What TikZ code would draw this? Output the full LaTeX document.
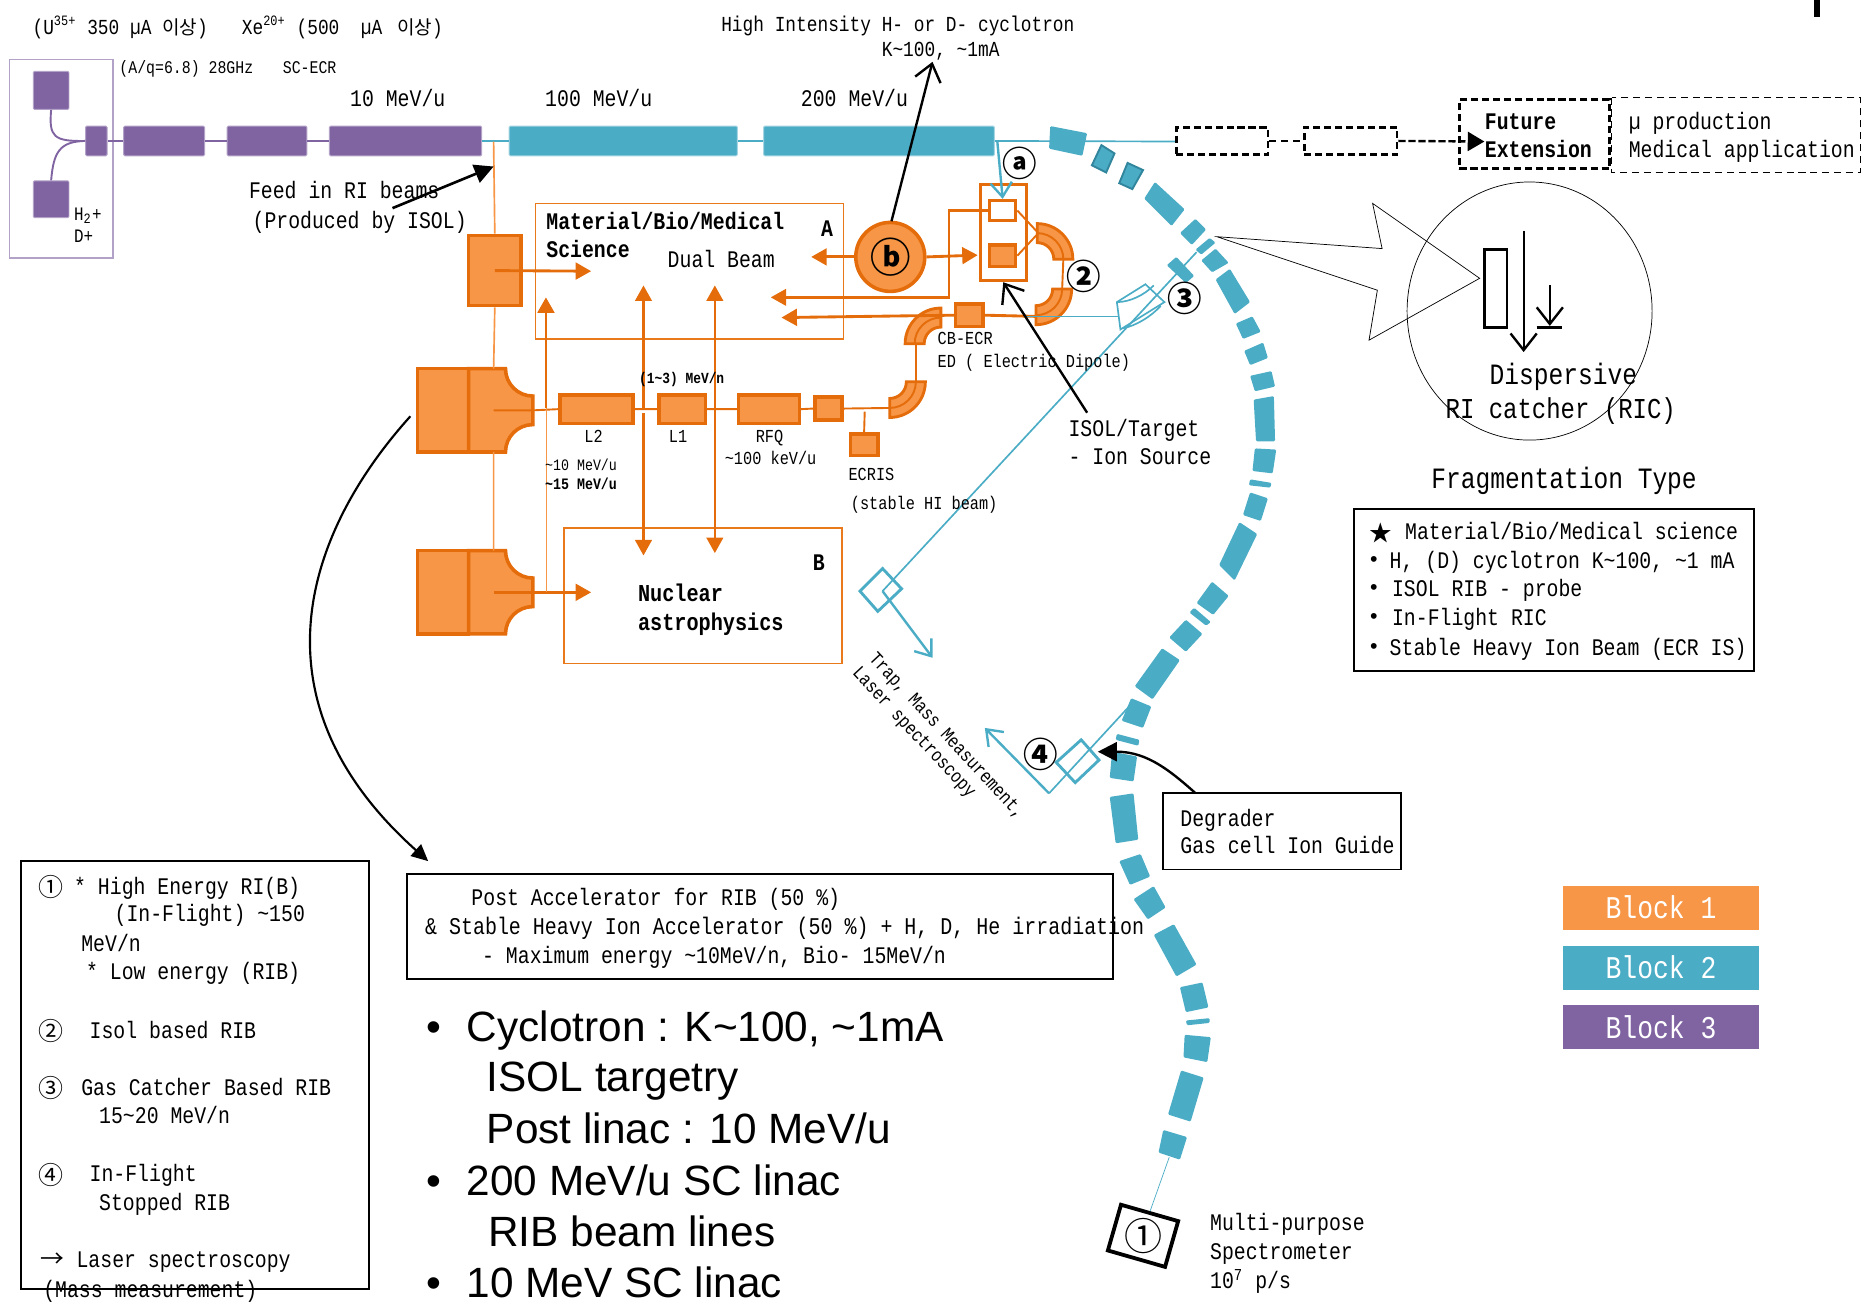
\documentclass[tikz,border=0pt]{standalone}
\usepackage{fontspec}
\setmainfont[FakeStretch=0.833]{Liberation Mono}
\newfontfamily\krfont{Noto Sans CJK KR}
\newfontfamily\bigsans{Liberation Sans}
\usetikzlibrary{positioning,arrows.meta,calc}
\definecolor{orfill}{HTML}{F79646}
\definecolor{ordark}{HTML}{E46C0A}
\definecolor{blfill}{HTML}{4BACC6}
\definecolor{bldark}{HTML}{31859C}
\definecolor{pufill}{HTML}{8064A2}
\definecolor{puline}{HTML}{B3A2C7}
\newcommand{\fsz}[1]{\fontsize{#1}{#1}\selectfont}
\newcommand{\kr}[1]{{\krfont #1}}
\tikzset{
  lbl/.style={inner sep=0pt,anchor=west,text height=0.77em,text depth=0.2em,font=\fsz{10pt}},
  lblsm/.style={lbl,font=\fsz{7.7pt}},
  lblbf/.style={lbl,font=\fsz{10pt}\bfseries},
  lblbig/.style={lbl,font=\fsz{12.4pt},text height=0.95em},
  badge/.style={inner sep=0pt,font=\krfont\bfseries\fsz{14.5pt}},
  bigtxt/.style={inner sep=0pt,anchor=west,text height=1.5em,text depth=0.2em,font=\bigsans\fsz{17.8pt}},
  pubox/.style={draw=puline,line width=0.4pt,fill=pufill,rounded corners=0.5pt,inner sep=0pt},
  blbox/.style={draw=blfill!50,line width=0.4pt,fill=blfill,rounded corners=0.5pt,inner sep=0pt},
  orbox/.style={draw=ordark,line width=1.5pt,fill=orfill,inner sep=0pt},
  orframe/.style={draw=ordark!70!orfill,line width=0.6pt},
  orline/.style={draw=ordark,line width=0.8pt},
  orthin/.style={draw=orfill,line width=0.7pt},
  orarrow/.style={draw=ordark,line width=1.2pt,-{Triangle[length=6.5pt,width=7pt]}},
  blline/.style={draw=blfill,line width=0.7pt},
  blarrow/.style={draw=blfill,line width=1pt,-{Straight Barb[length=6pt,width=9pt,line width=1pt]}},
  karrow/.style={draw=black,line width=1pt,-{Straight Barb[length=7pt,width=11pt,line width=1pt]}},
  kfill/.style={draw=black,line width=1pt,-{Triangle[length=8pt,width=8pt]}},
  dashbox/.style={draw=black,line width=1.2pt,dash pattern=on 3pt off 1.6pt,inner sep=0pt},
  keybox/.style={inner sep=0pt,minimum width=82.5pt,minimum height=18.5pt,text=white,font=\fsz{13.3pt}},
}
\newcommand{\pipebend}[2]{%
  \draw[draw=ordark,line width=1.2pt,fill=orfill] (#1) ++(#2:30) arc[start angle=#2,end angle=#2+90,radius=30]
    -- ([shift={(#2+90:14)}]#1) arc[start angle=#2+90,end angle=#2,radius=14] -- cycle;
  \draw[orline] (#1) ++(#2:22) arc[start angle=#2,end angle=#2+90,radius=22];
}
\newcommand{\cycl}[2]{%
  \draw[orbox] (351,#2) rectangle (394,#2+70);
  \draw[orbox] (394,#2) -- (425,#2) arc[start angle=180,end angle=90,radius=23] -- (448,#2+47)
    arc[start angle=270,end angle=180,radius=23] -- (394,#2+70) -- cycle;
  \coordinate (#1c) at (415,#2+35);
  \coordinate (#1n) at (415,#2);
  \coordinate (#1s) at (415,#2+70);
  \coordinate (#1e) at (448,#2+35);
}
\begin{document}
\begin{tikzpicture}[x=0.5pt,y=-0.5pt]
  \useasboundingbox (0,0) rectangle (1568,1095.5);
  \fill[black] (1525,0) rectangle (1530,14);

  % linac
  \draw[puline,line width=0.6pt] (8,50) rectangle (95,217);
  \node[pubox,minimum width=15pt,minimum height=16pt] (srca) at (43,76) {};
  \node[pubox,minimum width=15pt,minimum height=15.5pt] (srcb) at (43,167.5) {};
  \node[pubox,minimum width=9pt,minimum height=12.5pt] (lebt) at (81,118.5) {};
  \node[pubox,minimum width=34pt,minimum height=12.5pt] (pua) at (138,118.5) {};
  \node[pubox,minimum width=33.5pt,minimum height=12.5pt] (pub) at (224.5,118.5) {};
  \node[pubox,minimum width=64pt,minimum height=12.5pt] (puc) at (341,118.5) {};
  \node[blbox,minimum width=96pt,minimum height=12.5pt] (bla) at (524,118.5) {};
  \node[blbox,minimum width=97pt,minimum height=12.5pt] (blb) at (739,118.5) {};
  \draw[pufill,line width=0.8pt] (srca.south) .. controls (41,115) and (45,119) .. (lebt.west);
  \draw[pufill,line width=0.8pt] (srcb.north) .. controls (45,128) and (50,119) .. (lebt.west);
  \draw[pufill,line width=0.6pt] (lebt) -- (pua) (pua) -- (pub) (pub) -- (puc);
  \draw[blline] (puc.east) -- (bla.west) (bla.east) -- (blb.west);
  \coordinate (feed) at (415,119);
  \coordinate (tapa) at (838.5,119);

  % orange part
  \node[orbox,minimum width=22pt,minimum height=29.5pt] (isol) at (416,227.5) {};
  \cycl{cyca}{310}
  \cycl{cycb}{463}
  \draw[orframe] (450,171) rectangle (709,285);
  \draw[orframe] (474,444) rectangle (708,558);
  \node[orbox,minimum width=30.5pt,minimum height=12pt] (ltwo) at (501.5,344) {};
  \node[orbox,minimum width=19.5pt,minimum height=12pt] (lone) at (573.5,344) {};
  \node[orbox,minimum width=25.5pt,minimum height=12pt] (rfq) at (646.5,344) {};
  \node[orbox,minimum width=11.5pt,minimum height=9.5pt] (buncha) at (696.5,343.5) {};
  \node[orbox,minimum width=11.5pt,minimum height=9pt] (ecris) at (726.5,374) {};
  \node[orbox,minimum width=11.5pt,minimum height=9.5pt] (cbecr) at (815,265) {};
  \node[draw=ordark,line width=1.3pt,minimum width=19.5pt,minimum height=40.5pt,inner sep=0pt] (tgtbox) at (843.5,195.5) {};
  \node[draw=ordark,line width=1.3pt,fill=white,minimum width=11pt,minimum height=8.5pt,inner sep=0pt] (tgta) at (843,177) {};
  \node[orbox,line width=1.3pt,minimum width=11pt,minimum height=9pt,inner sep=0pt] (tgtb) at (843,215) {};
  \node[orbox,circle,minimum size=29pt] (cyb) at (748.5,216) {\fontsize{17pt}{17pt}\krfont\bfseries ⓑ};
  \pipebend{748,321}{0}
  \pipebend{791,289}{180}
  \pipebend{871,243}{0}
  \pipebend{872,218}{270}
  \coordinate (bdn) at (770,321);
  \coordinate (bup) at (770,289);
  \coordinate (brm) at (873,196);
  \coordinate (brb) at (893,243);
  \coordinate (brt) at (894,218);
  \coordinate (tipw) at (657,267);
  \coordinate (tipx) at (648,250);
  \coordinate (cornx) at (798,177);
  \coordinate (corny) at (798,250);
  \coordinate (tgtw) at (822,214.5);
  \draw[orthin] (feed) -- (isol.north) (isol.south) -- (cycan) (cycas) -- (cycbn);
  \draw[orarrow] (isol.center) -- (497,228);
  \draw[orarrow] (cycbc) -- (497,498);
  \draw[orline] (cycac) -- (cycae) -- (ltwo.west) (ltwo.east) -- (lone.west) (lone.east) -- (rfq.west) (rfq.east) -- (buncha.west) (buncha.east) -- (748,343);
  \draw[orline] (727,346) -- (ecris.north);
  \draw[orline] (bdn) -- (bup);
  \draw[orarrow] (cbecr.west) -- (tipw);
  \draw[draw=ordark,line width=1.2pt] (cbecr.east) -- (871,266);
  \draw[orline] (brt) -- (brb);
  \draw[orline] (tgta.east) -- (brm) -- (tgtb.east);
  \draw[draw=ordark,line width=1pt,-{Triangle[length=6.5pt,width=7pt]}] (tgta.west) -- (cornx) -- (corny) -- (tipx);
  \draw[orarrow] (cyb.east) -- (tgtw);
  \draw[orarrow] (cyb.west) -- (682,216);
  \draw[orarrow] (459,343) -- (459,250);
  \draw[orthin,line width=0.3pt] (459,343) -- (459,498);
  \draw[orarrow,line width=0.9pt] (541,343) -- (541,240);
  \draw[orarrow,line width=0.9pt] (541,347) -- (541,467);
  \draw[orarrow,line width=0.9pt] (601,343) -- (601,240);
  \draw[orarrow,line width=0.9pt] (601,343) -- (601,465);

  % blue ring
  \draw[blline] (blb.east) -- (989,119);
  \draw[blarrow] (tapa) -- (tgta.north);
  \foreach \a/\b/\c/\d/\e/\f/\g/\h in {
    883/106/914/112/910/131/882/125, 971/153/996/176/985/190/962/167, 1005/184/1014/193/1002/206/992/196,
    1017/200/1022/204/1010/214/1005/210, 1022/209/1033/221/1019/229/1010/219, 1034/226/1051/254/1038/264/1022/235,
    1053/266/1060/279/1045/285/1039/272, 1062/288/1066/301/1051/307/1046/295, 1069/312/1072/325/1055/329/1051/316,
    1071/333/1072/371/1056/371/1054/336, 1073/378/1070/398/1053/396/1055/377, 1069/406/1068/410/1050/408/1051/403,
    1066/419/1060/438/1045/433/1051/414, 1057/449/1038/488/1025/475/1042/439, 1033/501/1020/517/1006/507/1019/489,
    1018/523/1014/526/1000/515/1004/511, 1011/533/997/548/983/536/997/521, 977/545/992/555/969/588/954/577,
    951/587/968/594/961/612/943/606, 939/617/958/622/957/627/938/622, 935/632/956/636/953/657/933/654,
    933/670/953/667/957/706/938/709, 941/724/959/718/967/737/950/744, 953/756/970/745/980/763/965/773,
    970/786/987/777/1006/811/989/821, 992/830/1011/826/1016/847/997/851, 997/858/1017/856/1017/860/998/862,
    996/870/1018/872/1015/893/995/889, 993/900/1012/906/1001/943/982/937, 978/950/998/956/992/975/974/969,
    989/216/1004/232/997/238/981/223}
    \fill[blfill,rounded corners=0.5pt] (\a,\b) -- (\c,\d) -- (\e,\f) -- (\g,\h) -- cycle;
  \foreach \a/\b/\c/\d/\e/\f/\g/\h in {926/122/937/129/930/145/918/139, 948/137/961/143/952/159/941/154}
    \draw[draw=bldark,line width=0.8pt,fill=blfill] (\a,\b) -- (\c,\d) -- (\e,\f) -- (\g,\h) -- cycle;

  % branches
  \coordinate (brc) at (861,266);
  \coordinate (brd) at (941,266);
  \coordinate (bre) at (1006,212);
  \coordinate (brf) at (742,497);
  \coordinate (brg) at (784,553);
  \coordinate (brh) at (952,591);
  \coordinate (bri) at (882,667);
  \coordinate (brj) at (828,612);
  \coordinate (spec) at (983,973);
  \draw[blline] (brc) -- (brd);
  \draw[blline] (bre) -- (brf);
  \draw[blarrow] (brf) -- (brg);
  \draw[blline] (brh) -- (bri);
  \draw[blarrow] (bri) -- (brj);
  \draw[blline,line width=0.7pt] (939,254) -- (963,239) -- (979,254) -- (942,277) -- cycle;
  \draw[blline] (939,254) .. controls (950,254) and (962,248) .. (970,240);
  \draw[blline] (944,276) .. controls (955,274) and (968,266) .. (976,257);
  \draw[blline,line width=1.2pt] (742,478) -- (758,495) -- (738,514) -- (723,497) -- cycle;
  \draw[blline,line width=1.2pt] (909,622) -- (924,639) -- (904,658) -- (888,641) -- cycle;
  \node[draw=black,line width=1.6pt,minimum width=25pt,minimum height=20pt,rotate=-16,inner sep=0pt,font=\krfont\fsz{16pt}] (specbox) at (961,1039) {\rotatebox{16}{①}};
  \draw[blfill,line width=0.3pt] (spec) -- (specbox.north);

  % future
  \node[dashbox,minimum width=38.5pt,minimum height=11.5pt] (futa) at (1027.5,118.5) {};
  \node[dashbox,minimum width=39pt,minimum height=11.5pt] (futb) at (1135.5,118.5) {};
  \node[dashbox,minimum width=63pt,minimum height=29pt] (futc) at (1290,113) {};
  \draw[draw=black,line width=0.6pt,densely dashed] (1355,82) rectangle (1564,145);
  \coordinate (fute) at (1248,119);
  \draw[draw=black,line width=0.8pt,densely dashed] (futa.east) -- (futb.west);
  \draw[draw=black,line width=1pt,dash pattern=on 3pt off 1.2pt,-{Triangle[length=7pt,width=8pt]}] (futb.east) -- (fute);
  \node[lblbf] (tfuta) at (1248,103) {Future};
  \node[lblbf] (tfutb) at (1248,127) {Extension};
  \node[lbl] (tmua) at (1369,103) {µ production};
  \node[lbl] (tmub) at (1369,127) {Medical application};

  % catcher
  \draw[black,line width=0.3pt] (1023,199) -- (1162,209) -- (1154,171) -- (1244,234) -- (1151,286) -- (1158,244) -- cycle;
  \draw[black,line width=0.3pt] (1286,261.5) ellipse [x radius=103,y radius=108.5];
  \draw[black,line width=1.2pt] (1248,210) rectangle (1267,275);
  \coordinate (cata) at (1281,194);
  \coordinate (catb) at (1281,296);
  \coordinate (catc) at (1303,240);
  \coordinate (catd) at (1303,274);
  \draw[karrow,line width=0.8pt] (cata) -- (catb);
  \draw[karrow,line width=0.8pt] (catc) -- (catd);
  \draw[black,line width=1.2pt] (1292,275) -- (1313,275);
  \node[lblbig] (tcata) at (1252,316) {Dispersive};
  \node[lblbig,font=\fsz{12.1pt}] (tcatb) at (1215,344) {RI catcher (RIC)};
  \node[lblbig] (tcatc) at (1203,403) {Fragmentation Type};
  \draw[black,line width=0.8pt] (1138,428) rectangle (1475,564);
  \node[inner sep=0pt,font=\krfont\fsz{9.5pt}] (star) at (1161,448) {★};
  \node[lbl] (lista) at (1181,448) {Material/Bio/Medical science};
  \foreach \i/\yy/\xx/\tx in {b/472/1168/{H, (D) cyclotron K\textasciitilde100, \textasciitilde1 mA},
    c/496/1170/ISOL RIB - probe, d/520/1170/In-Flight RIC, e/545/1168/Stable Heavy Ion Beam (ECR IS)} {
    \node[inner sep=0pt,font=\bigsans\fsz{9pt}] (bul\i) at (1155,\yy) {•};
    \node[lbl] (list\i) at (\xx,\yy) {\tx};
  }

  % text top
  \node[lbl,font=\fsz{9pt}] (tusrc) at (27,23) {(U\textsuperscript{35+} 350 µA \kr{\fsz{8pt}이상})};
  \node[lbl,font=\fsz{9pt}] (txsrc) at (203,23) {Xe\textsuperscript{20+} (500\ \ µA \kr{\fsz{8pt}\ 이상})};
  \node[lbl,font=\fsz{7.5pt}] (taq) at (100,56) {(A/q=6.8) 28GHz\hspace{12.5pt}SC-ECR};
  \node[lblsm,font=\fsz{8pt}] (thp) at (62,180) {H\textsubscript{2}+};
  \node[lblsm,font=\fsz{8pt}] (tdp) at (62,198) {D+};
  \node[lbl] (tena) at (294,84) {10 MeV/u};
  \node[lbl] (tenb) at (458,84) {100 MeV/u};
  \node[lbl] (tenc) at (673,84) {200 MeV/u};
  \node[lbl,font=\fsz{9pt}] (tcyca) at (606,21) {High Intensity H- or D- cyclotron};
  \node[lbl,font=\fsz{9pt}] (tcycb) at (741,42) {K\textasciitilde100, \textasciitilde1mA};
  \node[lbl] (tfeeda) at (209,161) {Feed in RI beams};
  \node[lbl] (tfeedb) at (212,186) {(Produced by ISOL)};
  \node[lblbf] (tmata) at (459,187) {Material/Bio/Medical};
  \node[lblbf] (tmatb) at (459,211) {Science};
  \node[lblbf] (tbla) at (690,193) {A};
  \node[lbl] (tdual) at (561,219) {Dual Beam};
  \node[lblbf] (tblb) at (683,474) {B};
  \node[lblbf,font=\fsz{10.2pt}\bfseries] (tnuca) at (536,500) {Nuclear};
  \node[lblbf,font=\fsz{10.2pt}\bfseries] (tnucb) at (536,524) {astrophysics};
  \node[lblsm,font=\fsz{6.5pt}\bfseries] (tmevn) at (537,317) {(1\textasciitilde3) MeV/n};
  \node[lblsm] (tltwo) at (491,366) {L2};
  \node[lblsm] (tlone) at (562,366) {L1};
  \node[lblsm] (trfq) at (635,366) {RFQ};
  \node[lblsm] (tkev) at (609,385) {\textasciitilde100 keV/u};
  \node[lblsm,font=\fsz{6.7pt}] (tmeva) at (458,390) {\textasciitilde10 MeV/u};
  \node[lblsm,font=\fsz{6.7pt}\bfseries] (tmevb) at (458,406) {\textasciitilde15 MeV/u};
  \node[lblsm] (tecr) at (713,398) {ECRIS};
  \node[lblsm] (tstab) at (715,423) {(stable HI beam)};
  \node[lblsm] (tcb) at (788,284) {CB-ECR};
  \node[lblsm] (ted) at (788,303) {ED ( Electric Dipole)};
  \node[lbl] (tisa) at (898,361) {ISOL/Target};
  \node[lbl] (tisb) at (898,385) {- Ion Source};
  \node[lblsm,font=\fsz{8pt},rotate=-47] (ttrap) at (734,550) {Trap, Mass Measurement,};
  \node[lblsm,font=\fsz{8pt},rotate=-47] (tlaser) at (720,562) {Laser spectroscopy};
  \node[lbl] (tmula) at (1017,1029) {Multi-purpose};
  \node[lbl] (tmulb) at (1017,1053) {Spectrometer};
  \node[lbl] (tmulc) at (1017,1078) {10\textsuperscript{7} p/s};

  % badges
  \node[badge] (bada) at (857,137) {ⓐ};
  \node[badge] (badb) at (911,232) {②};
  \node[badge] (badc) at (996,251) {③};
  \node[badge] (badd) at (875,634) {④};

  % black arrows
  \coordinate (feeda) at (330,175);
  \coordinate (feedb) at (415,140);
  \draw[kfill,line width=1.1pt] (feeda) -- (feedb);
  \coordinate (cyba) at (749.5,186);
  \coordinate (cybb) at (784,52);
  \draw[karrow] (cyba) -- (cybb);
  \coordinate (isola) at (914,347);
  \draw[karrow] (isola) -- (tgtbox.south);
  \coordinate (postb) at (345,350);
  \coordinate (poste) at (360,724);
  \draw[draw=black,line width=0.9pt,-{Triangle[length=7pt,width=6.5pt]}] (postb) .. controls (255,450) and (210,590) .. (poste);
  \coordinate (dega) at (1015,676);
  \coordinate (degb) at (923,632);
  \draw[kfill] (dega) .. controls (985,648) and (965,632) .. (degb);

  % boxes below
  \draw[black,line width=0.8pt,fill=white] (978,667) rectangle (1178,731);
  \node[lbl] (tdega) at (992,689) {Degrader};
  \node[lbl] (tdegb) at (992,712) {Gas cell Ion Guide};
  \draw[black,line width=0.8pt] (342,735) rectangle (936,823);
  \node[lbl] (tposta) at (396,756) {Post Accelerator for RIB (50 \%)};
  \node[lbl,font=\fsz{10.08pt}] (tpostb) at (357,780) {\& Stable Heavy Ion Accelerator (50 \%) + H, D, He irradiation};
  \node[lbl] (tpostc) at (405,804) {- Maximum energy \textasciitilde10MeV/n, Bio- 15MeV/n};

  \node[bigtxt] (bula) at (358,863) {•};
  \node[bigtxt] (sumay) at (392,863) {Cyclotron : K\textasciitilde100, \textasciitilde1mA};
  \node[bigtxt] (sumab) at (409,905) {ISOL targetry};
  \node[bigtxt] (sumac) at (409,948) {Post linac : 10 MeV/u};
  \node[bigtxt] (bulb) at (358,992) {•};
  \node[bigtxt] (sumba) at (392,992) {200 MeV/u SC linac};
  \node[bigtxt] (sumbb) at (410,1035) {RIB beam lines};
  \node[bigtxt] (bulc) at (358,1078) {•};
  \node[bigtxt] (sumca) at (392,1078) {10 MeV SC linac};

  % legend
  \draw[black,line width=0.8pt] (18,724) rectangle (310,1084);
  \foreach \i/\yy/\tx in {a/746/①,b/867/②,c/915/③,d/988/④}
    \node[inner sep=0pt,font=\krfont\fsz{10.5pt}] (num\i) at (43,\yy) {\tx};
  \node[lbl] (lega) at (62,746) {* High Energy RI(B)};
  \node[lbl] (legb) at (96,769) {(In-Flight) \textasciitilde150};
  \node[lbl] (legc) at (68,794) {MeV/n};
  \node[lbl] (legd) at (72,818) {* Low energy (RIB)};
  \node[lbl] (lege) at (75,867) {Isol based RIB};
  \node[lbl] (legf) at (68,915) {Gas Catcher Based RIB};
  \node[lbl] (legg) at (83,939) {15\textasciitilde20 MeV/n};
  \node[lbl] (legh) at (75,988) {In-Flight};
  \node[lbl] (legi) at (83,1012) {Stopped RIB};
  \node[lbl] (legj) at (34,1060) {{\krfont→} Laser spectroscopy};
  \node[lbl] (legk) at (36,1085) {(Mass measurement)};

  \node[keybox,fill=orfill] (keya) at (1396.5,763) {Block 1};
  \node[keybox,fill=blfill] (keyb) at (1396.5,813.5) {Block 2};
  \node[keybox,fill=pufill] (keyc) at (1396.5,863.5) {Block 3};
\end{tikzpicture}
\end{document}
